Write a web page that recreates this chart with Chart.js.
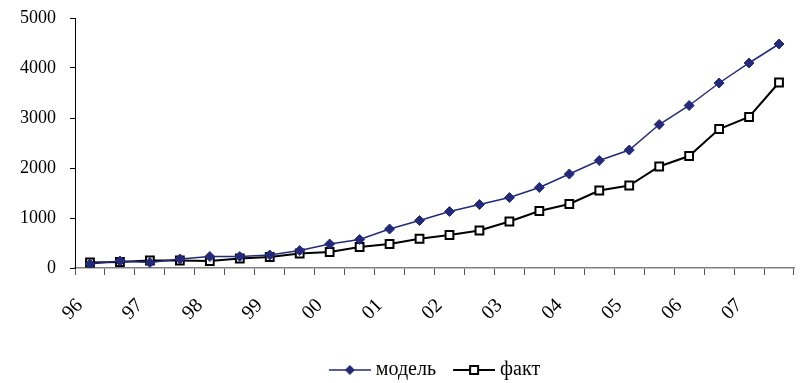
<!DOCTYPE html>
<html>
<head>
<meta charset="utf-8">
<script src="https://cdn.jsdelivr.net/npm/chart.js@4/dist/chart.umd.min.js"></script>
<style>
  body { margin: 0; background: #fff; }
  #wrap { width: 802px; height: 383px; }
</style>
</head>
<body>
<div id="wrap"><canvas id="chart" width="802" height="383"></canvas></div>
<script>
// years shown on the axis, two half-year points per year
const yearLabels = ['96', '97', '98', '99', '00', '01', '02', '03', '04', '05', '06', '07'];
const modelValues = [80, 140, 110, 180, 230, 230, 260, 350, 480, 570, 780, 950,
  1130, 1270, 1410, 1610, 1880, 2150, 2360, 2870, 3250, 3700, 4100, 4480];
const factValues = [110, 120, 150, 150, 140, 190, 220, 290, 320, 420, 480, 585,
  660, 750, 930, 1140, 1280, 1550, 1650, 2030, 2240, 2780, 3020, 3710];
const yTicks = [0, 1000, 2000, 3000, 4000, 5000];

const categories = [];
yearLabels.forEach(y => { categories.push(y); categories.push(''); });

const navy = '#232A7A';
const font = { family: 'Liberation Serif', size: 18 };
const bigFont = { family: 'Liberation Serif', size: 20 };

// legend icon: short line with the marker in the middle
// (canvas is wider than the legend box so the text sits closer to the line)
function legendIcon(kind) {
  const c = document.createElement('canvas');
  c.width = 58; c.height = 14;
  const g = c.getContext('2d');
  g.beginPath();
  g.moveTo(16, 7); g.lineTo(58, 7);
  g.strokeStyle = kind === 'model' ? navy : '#000';
  g.lineWidth = kind === 'model' ? 1.5 : 2;
  g.stroke();
  if (kind === 'model') {
    g.beginPath();
    g.moveTo(37, 2); g.lineTo(42, 7); g.lineTo(37, 12); g.lineTo(32, 7);
    g.closePath();
    g.fillStyle = navy;
    g.fill();
  } else {
    g.fillStyle = '#fff';
    g.fillRect(33, 3, 8, 8);
    g.strokeRect(33, 3, 8, 8);
  }
  return c;
}
const icons = [legendIcon('model'), legendIcon('fact')];

const shiftLegend = {
  id: 'shiftLegend',
  afterLayout(chart) {
    const l = chart.legend;
    l.left += 32; l.right += 32;
    l.top += 7; l.bottom += 7;
  }
};

function noPad(scale) {
  scale.paddingLeft = 0; scale.paddingRight = 0;
  scale.paddingTop = 0; scale.paddingBottom = 0;
}

new Chart(document.getElementById('chart').getContext('2d'), {
  type: 'line',
  data: {
    labels: categories,
    datasets: [{
      label: 'модель',
      data: modelValues,
      borderColor: navy,
      backgroundColor: navy,
      borderWidth: 1.5,
      pointStyle: 'rectRot',
      pointRadius: 5,
      pointBorderWidth: 1,
      tension: 0
    }, {
      label: 'факт',
      data: factValues,
      borderColor: '#000',
      backgroundColor: '#fff',
      borderWidth: 2,
      pointStyle: 'rect',
      pointRadius: 5.5,
      pointBorderWidth: 2,
      tension: 0
    }]
  },
  options: {
    responsive: false,
    animation: false,
    layout: { padding: { top: 18, right: 8, left: 0, bottom: 0 } },
    plugins: {
      tooltip: { enabled: false },
      legend: {
        position: 'bottom',
        labels: {
          font: bigFont,
          color: '#000',
          usePointStyle: true,
          pointStyleWidth: 48,
          padding: 6,
          generateLabels(chart) {
            const items = Chart.defaults.plugins.legend.labels.generateLabels(chart);
            items.forEach((it, i) => { it.pointStyle = icons[i]; });
            return items;
          }
        }
      }
    },
    scales: {
      x: {
        offset: true,
        afterFit(scale) { scale.height = 79; noPad(scale); },
        grid: {
          offset: true,
          drawOnChartArea: false,
          drawTicks: true,
          tickLength: 7,
          color: '#555'
        },
        border: { color: '#808080', width: 1.5 },
        ticks: {
          font: bigFont,
          color: '#000',
          autoSkip: false,
          minRotation: 45,
          maxRotation: 45,
          padding: 19,
          labelOffset: -10
        }
      },
      y: {
        min: 0,
        max: 5000,
        afterFit(scale) { scale.width = 75; noPad(scale); },
        afterBuildTicks(scale) { scale.ticks = yTicks.map(v => ({ value: v })); },
        grid: {
          drawOnChartArea: false,
          drawTicks: true,
          tickLength: 5,
          color: '#000'
        },
        border: { color: '#000', width: 1 },
        ticks: {
          font: font,
          color: '#000',
          padding: 14,
          callback: v => String(v)
        }
      }
    }
  },
  plugins: [shiftLegend]
});
</script>
</body>
</html>
